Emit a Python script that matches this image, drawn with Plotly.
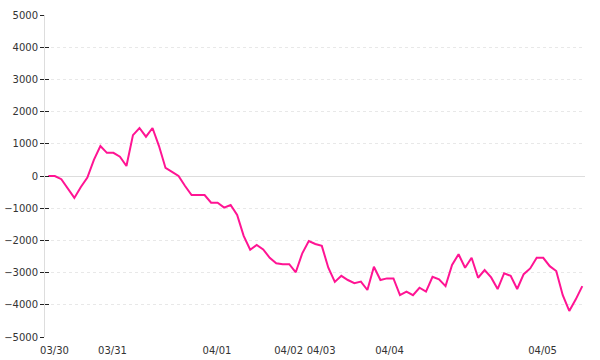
import plotly.graph_objects as go

values = [0, 0, -100, -380, -680, -340, -50, 500, 930, 720,
          720, 600, 310, 1270, 1490, 1220, 1490, 930, 250, 130,
          0, -310, -590, -590, -590, -830, -830, -980, -900, -1210,
          -1860, -2290, -2140, -2280, -2540, -2710, -2740, -2740, -2990, -2400,
          -2020, -2110, -2170, -2850, -3290, -3100, -3230, -3330, -3280, -3540,
          -2820, -3230, -3180, -3180, -3700, -3590, -3700, -3470, -3590, -3130,
          -3210, -3420, -2760, -2430, -2850, -2540, -3160, -2920, -3150, -3510,
          -3020, -3100, -3510, -3050, -2870, -2540, -2540, -2800, -2950, -3700,
          -4190, -3830, -3420]
x_index = list(range(len(values)))

tick_positions = [0.95, 9.86, 25.9, 36.9, 41.9, 52.4, 75.9]
tick_labels = ["03/30", "03/31", "04/01", "04/02", "04/03", "04/04", "04/05"]
y_ticks = [-5000, -4000, -3000, -2000, -1000, 0, 1000, 2000, 3000, 4000, 5000]

font = dict(family="DejaVu Sans", size=10, color="#333333")

fig = go.Figure()
fig.add_trace(go.Scatter(x=x_index, y=values, mode="lines",
                         line=dict(color="#ff1493", width=2), hoverinfo="skip"))
# helper invisible trace for the inner half of y tick marks
fig.add_trace(go.Scatter(x=[None], y=[None], yaxis="y2", showlegend=False))

fig.update_layout(
    width=600, height=360,
    margin=dict(l=45, r=15, t=15, b=23),
    paper_bgcolor="white", plot_bgcolor="white",
    showlegend=False,
    font=font,
    xaxis=dict(range=[-0.507, len(values) - 1 + 0.415], automargin=False,
               tickmode="array", tickvals=tick_positions, ticktext=tick_labels,
               showgrid=False, zeroline=False, showline=False,
               ticks="outside", ticklen=4, tickcolor="rgba(0,0,0,0)",
               tickfont=font),
    yaxis=dict(range=[-5000, 5000], automargin=False,
               tickmode="array", tickvals=y_ticks,
               ticktext=[str(v).replace("-", "\u2212") for v in y_ticks],
               showgrid=True, gridcolor="#e8e8e8", griddash="dot", gridwidth=1,
               zeroline=True, zerolinecolor="#dddddd", zerolinewidth=1,
               showline=True, linecolor="#dddddd", linewidth=1,
               ticks="outside", ticklen=4, tickcolor="#222222", tickwidth=1,
               tickfont=font),
    yaxis2=dict(range=[-5000, 5000], overlaying="y", side="left", automargin=False,
                tickmode="array", tickvals=y_ticks, showticklabels=False,
                showgrid=False, zeroline=False, showline=False,
                ticks="inside", ticklen=4, tickcolor="#222222", tickwidth=1),
)

fig.write_html("out.html")
